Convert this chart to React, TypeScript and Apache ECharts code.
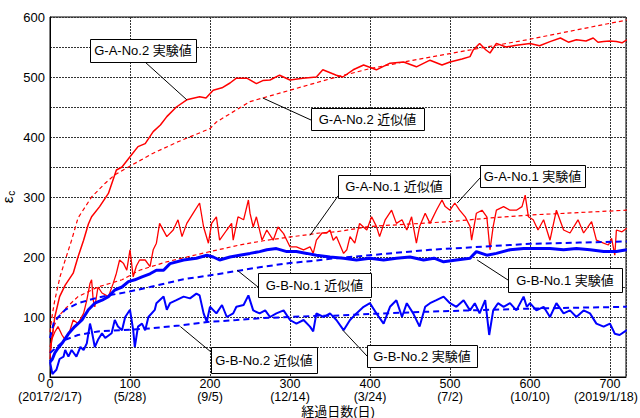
import React, { useEffect, useRef } from "react";
import * as echarts from "echarts";

const xTicks = [0, 100, 200, 300, 400, 500, 600, 700];
const xDates = ["2017/2/17", "5/28", "9/5", "12/14", "3/24", "7/2", "10/10", "2019/1/18"];

const ga2Exp: number[][] = [[0,40],[2,60],[6,100],[12,134],[19,153],[29,173],[35,200],[42,228],[48,255],[52,267],[62,284],[73,306],[83,345],[90,350],[100,367],[110,384],[119,389],[129,409],[138,420],[146,434],[158,450],[171,462],[187,467],[195,465],[204,478],[215,482],[225,490],[233,498],[246,498],[258,489],[266,494],[275,495],[287,503],[300,495],[316,498],[333,500],[341,512],[358,503],[366,500],[379,512],[392,520],[408,512],[425,523],[442,525],[458,517],[475,528],[490,520],[500,525],[515,530],[525,534],[529,545],[537,556],[545,545],[550,540],[558,556],[570,550],[583,553],[600,556],[612,552],[625,559],[638,565],[648,558],[658,562],[670,560],[679,565],[685,558],[692,559],[700,560],[708,559],[715,557],[721,562]];
const ga2Fit: number[][] = [[0,75],[3,105],[6,128],[12.5,167],[19,195],[27,228],[35,265],[52,300],[69,323],[81,337],[102,353],[129,373],[160,392],[200,414],[208,425],[250,459],[300,478],[350,497],[400,514],[450,527],[500,539],[550,551],[600,563],[660,579],[721,595]];
const ga1Exp: number[][] = [[0,30],[2,62],[6,75],[10,84],[15,70],[19,62],[25,78],[29,95],[35,89],[42,106],[46,128],[50,156],[52,162],[54,128],[56,117],[60,150],[65,140],[73,134],[79,156],[83,173],[87,195],[92,189],[96,178],[100,212],[104,167],[108,185],[112,195],[119,195],[125,184],[129,212],[133,223],[137,256],[146,234],[154,245],[160,262],[165,234],[171,256],[179,273],[187,290],[192,250],[198,223],[202,256],[208,267],[212,228],[221,245],[227,256],[229,228],[235,267],[242,262],[248,295],[250,273],[254,250],[258,267],[265,228],[271,245],[279,228],[285,250],[292,239],[296,228],[300,217],[308,217],[317,212],[325,217],[329,206],[333,228],[340,240],[346,240],[350,245],[354,228],[358,234],[367,206],[371,212],[375,234],[381,223],[387,256],[396,245],[402,267],[408,251],[412,234],[419,262],[427,278],[433,256],[440,262],[446,245],[452,267],[458,223],[462,251],[469,273],[475,256],[483,278],[490,295],[494,284],[500,278],[506,290],[512,278],[519,267],[525,251],[527,228],[533,273],[540,278],[546,267],[550,212],[554,251],[558,278],[567,284],[575,278],[583,278],[590,284],[594,303],[598,267],[604,262],[610,245],[617,262],[625,228],[633,278],[642,245],[650,240],[660,262],[667,240],[677,259],[683,228],[692,223],[698,220],[702,231],[706,203],[708,245],[715,242],[721,248]];
const ga1Fit: number[][] = [[0,50],[5,85],[10,100],[20,115],[35,134],[60,150],[90,162],[112,178],[146,192],[171,200],[200,209],[237,220],[271,228],[304,234],[337,240],[358,242],[400,251],[450,255],[500,259],[550,265],[600,270],[660,274],[721,278]];
const gb1Exp: number[][] = [[0,25],[3,30],[6,40],[10,48],[15,56],[23,72],[31,84],[40,95],[48,112],[56,123],[65,128],[73,134],[81,145],[90,150],[98,159],[106,162],[115,167],[125,172],[133,178],[142,178],[150,189],[167,195],[183,198],[196,203],[204,200],[212,195],[225,200],[237,203],[250,206],[262,209],[271,212],[283,214],[296,209],[308,209],[321,206],[333,203],[350,200],[367,198],[383,195],[400,198],[417,195],[433,198],[450,200],[467,195],[480,198],[492,192],[508,195],[525,198],[533,209],[546,203],[558,206],[575,212],[592,214],[608,214],[625,214],[642,212],[658,214],[675,212],[692,209],[708,209],[721,212]];
const gb1Fit: number[][] = [[0,65],[5,92],[19,112],[35,123],[56,131],[77,137],[98,142],[125,150],[167,163],[208,171],[262,183],[300,190],[333,194],[350,197],[400,203],[475,212],[550,218],[600,222],[662,224],[721,226]];
const gb2Exp: number[][] = [[0,25],[3,5],[8,12],[12,30],[17,34],[19,45],[23,34],[27,45],[33,34],[38,50],[42,45],[46,56],[50,89],[52,78],[56,50],[60,62],[65,73],[69,65],[77,73],[81,95],[85,84],[90,78],[94,100],[100,112],[104,78],[106,50],[110,84],[115,89],[119,78],[123,100],[131,112],[133,123],[142,134],[146,112],[150,123],[158,128],[167,134],[175,131],[183,139],[187,136],[192,106],[196,92],[200,117],[208,106],[215,120],[221,100],[229,106],[233,117],[242,120],[248,136],[254,111],[262,106],[269,111],[275,100],[283,106],[292,111],[300,95],[308,89],[317,95],[325,84],[329,76],[333,106],[342,100],[350,106],[358,95],[367,78],[375,95],[383,106],[392,117],[400,123],[408,106],[417,89],[425,117],[433,128],[440,100],[446,123],[454,106],[462,84],[469,117],[475,123],[483,128],[492,134],[500,123],[508,117],[517,128],[525,111],[531,123],[537,106],[544,128],[549,70],[554,111],[560,123],[567,117],[575,123],[583,111],[592,134],[596,117],[600,123],[608,111],[617,117],[625,100],[633,123],[642,106],[650,111],[658,100],[667,111],[675,106],[683,89],[692,84],[700,89],[706,72],[712,70],[721,78]];
const gb2Fit: number[][] = [[0,40],[19,62],[35,70],[60,76],[90,78],[125,81],[162,86],[200,92],[233,95],[262,98],[300,100],[333,102],[350,102],[400,105],[475,109],[550,112],[600,114],[721,117]];

// annotation labels: text, box [x, y, w, h] in px, leader start px, anchor in data coords
const annTexts = ["G-A-No.2 実験値", "G-A-No.2 近似値", "G-A-No.1 近似値", "G-A-No.1 実験値", "G-B-No.1 実験値", "G-B-No.1 近似値", "G-B-No.2 近似値", "G-B-No.2 実験値"];
const annBoxes = [[90,39,106,23],[311,108,113,22],[338,175,112,23],[480,165,105,22],[508,268,114,24],[258,273,113,24],[211,347,106,26],[367,345,110,22]];
const annStarts = [[145,62],[311,120],[338,196],[480,178],[508,280],[258,287],[211,352],[367,356]];
const annAnchors = [[171,462],[266,465],[325,236],[509,290],[534,195],[234,178],[163,84],[366,78]];

const FONT = "'Liberation Sans', Arial, 'Noto Sans CJK JP', sans-serif";

export default function App() {
  const ref = useRef<HTMLDivElement>(null);
  useEffect(() => {
    if (!ref.current) return;
    const chart = echarts.init(ref.current, null, { renderer: "svg" });
    const red = "#ff0000";
    const blue = "#0000ff";
    const line = (data: number[][], color: string, width: number, type: any, z: number) => ({
      type: "line", data, showSymbol: false, symbol: "none", z,
      lineStyle: { color, width, type }, silent: true,
    });
    chart.setOption({
      animation: false,
      textStyle: { fontFamily: FONT },
      grid: { left: 50, right: 14, top: 17, bottom: 41, containLabel: false, outerBoundsMode: "none", show: true, borderColor: "#000", borderWidth: 1, backgroundColor: "transparent" },
      xAxis: {
        type: "value", min: 0, max: 720, interval: 100,
        name: "経過日数(日)", nameLocation: "middle", nameGap: 28, nameMoveOverlap: false,
        nameTextStyle: { fontSize: 13, color: "#000", fontFamily: FONT },
        axisLine: { show: true, lineStyle: { color: "#000" } },
        axisTick: { show: false },
        axisLabel: {
          fontSize: 12.5, color: "#000", lineHeight: 12.5, margin: 1, showMaxLabel: false, fontFamily: FONT,
          rich: { last: { fontSize: 12.5, lineHeight: 12.5, color: "#000", fontFamily: FONT, padding: [0, 8, 0, 0] } },
          formatter: (v: number) => {
            const i = xTicks.indexOf(v);
            if (i < 0) return "";
            if (i === xTicks.length - 1) return `${v}\n{last|(${xDates[i]})}`;
            return `${v}\n(${xDates[i]})`;
          },
        },
        splitLine: { show: true, lineStyle: { color: "#333", type: [2, 1], width: 1 } },
      },
      yAxis: {
        type: "value", min: 0, max: 600, interval: 50,
        name: "{e|ε}{c|c}", nameLocation: "middle", nameGap: 34, nameRotate: 90, nameMoveOverlap: false,
        nameTextStyle: { rich: { e: { fontSize: 15, color: "#000", fontFamily: FONT }, c: { fontSize: 10, color: "#000", fontFamily: FONT, padding: [8, 0, 0, 1] } } },
        axisLine: { show: true, lineStyle: { color: "#000" } },
        axisTick: { show: false },
        axisLabel: { fontSize: 13, color: "#000", margin: 5, fontFamily: FONT, formatter: (v: number) => (v % 100 === 0 ? String(v) : "") },
        splitLine: { show: true, lineStyle: { color: "#333", type: [2, 1], width: 1 } },
      },
      series: [
        line(ga2Fit, red, 1.2, [4, 3], 2),
        line(ga1Fit, red, 1.2, [4, 3], 2),
        line(ga2Exp, red, 1.5, "solid", 3),
        line(ga1Exp, red, 1.3, "solid", 3),
        line(gb1Fit, blue, 2, [6, 4], 4),
        line(gb2Fit, blue, 2, [6, 4], 4),
        line(gb2Exp, blue, 2, "solid", 5),
        line(gb1Exp, blue, 3, "solid", 5),
      ],
    });
    const graphics: any[] = [];
    annTexts.forEach((t, i) => {
      const [bx, by, bw, bh] = annBoxes[i];
      const p = chart.convertToPixel({ gridIndex: 0 }, annAnchors[i]) as number[];
      graphics.push({ type: "line", z: 50, shape: { x1: annStarts[i][0], y1: annStarts[i][1], x2: p[0], y2: p[1] }, style: { stroke: "#000", lineWidth: 1 } });
      graphics.push({ type: "rect", z: 51, shape: { x: bx + 0.5, y: by + 0.5, width: bw, height: bh }, style: { fill: "#fff", stroke: "#000", lineWidth: 1 } });
      graphics.push({ type: "text", z: 52, x: bx + bw / 2, y: by + bh / 2, style: { text: t, fill: "#000", font: `13px ${FONT}`, textAlign: "center", textVerticalAlign: "middle", verticalAlign: "middle", align: "center" } });
    });
    chart.setOption({ graphic: graphics });
    return () => chart.dispose();
  }, []);
  return <div ref={ref} style={{ position: "fixed", left: 0, top: 0, width: 640, height: 418, background: "#fff" }} />;
}
